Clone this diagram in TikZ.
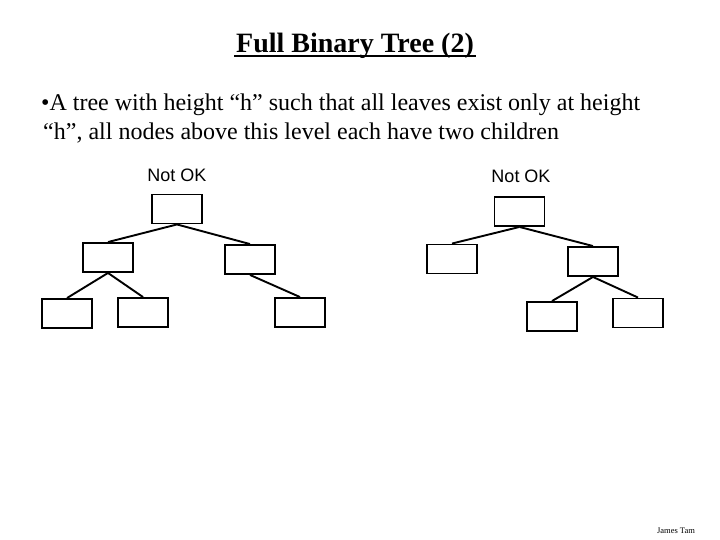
\documentclass[tikz,border=0pt]{standalone}
\usepackage{fontspec}
\setmainfont{Liberation Serif}
\newfontfamily\arialfont{Liberation Sans}
\tikzset{
  treebox/.style={draw, line width=1.9pt, minimum width=50pt, minimum height=29pt, inner sep=0pt},
  link/.style={line width=1.9pt},
  oklabel/.style={font=\arialfont\fontsize{18}{20}\selectfont, inner sep=0pt},
}
\begin{document}
\begin{tikzpicture}[x=1pt,y=-1pt]
\useasboundingbox[fill=white] (0,0) rectangle (720,540);
% title
\node[anchor=base, inner sep=0pt, font=\fontsize{28}{32}\selectfont\bfseries] (title) at (355,53) {Full Binary Tree (2)};
\draw[line width=2.3pt] ([xshift=-1.5pt,yshift=-3pt]title.base west) -- ([xshift=2pt,yshift=-3pt]title.base east);
% bullet text
\node[anchor=base west, inner sep=0pt, font=\fontsize{24}{28}\selectfont] (line1) at (41,111) {\textbullet A tree with height “h” such that all leaves exist only at height};
\node[anchor=base west, inner sep=0pt, font=\fontsize{24}{28}\selectfont] (line2) at (43,140) {“h”, all nodes above this level each have two children};
% labels
\node[oklabel] (ok1) at (177,175) {Not OK};
\node[oklabel] (ok2) at (521,176) {Not OK};
% tree 1
\node[treebox] (r1) at (177,209) {};
\node[treebox] (a1) at (108,257.5) {};
\node[treebox] (b1) at (250,259.5) {};
\node[treebox] (c1) at (67,313.5) {};
\node[treebox] (d1) at (143,312.5) {};
\node[treebox] (e1) at (300,312.5) {};
\draw[link] (r1.south) -- (a1.north);
\draw[link] (r1.south) -- (b1.north);
\draw[link] (a1.south) -- (c1.north);
\draw[link] (a1.south) -- (d1.north);
\draw[link] (b1.south) -- (e1.north);
% tree 2
\node[treebox] (r2) at (519.5,211.5) {};
\node[treebox] (a2) at (452,259) {};
\node[treebox] (b2) at (593,261.5) {};
\node[treebox] (c2) at (552,316.5) {};
\node[treebox] (d2) at (638,313) {};
\draw[link] (r2.south) -- (a2.north);
\draw[link] (r2.south) -- (b2.north);
\draw[link] (b2.south) -- (c2.north);
\draw[link] (b2.south) -- (d2.north);
% footer
\node[anchor=base, inner sep=0pt, font=\fontsize{8.5}{10}\selectfont] (author) at (676,533) {James Tam};
\end{tikzpicture}
\end{document}
